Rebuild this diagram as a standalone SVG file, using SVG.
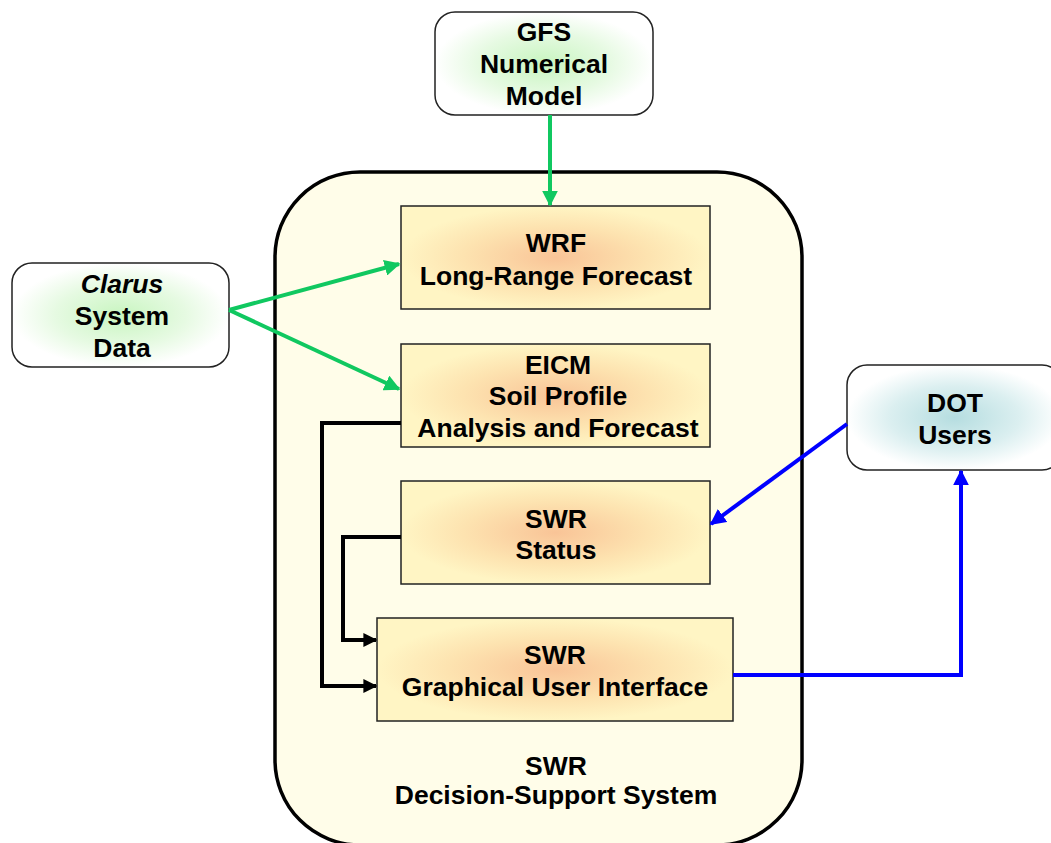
<svg xmlns="http://www.w3.org/2000/svg" width="1051" height="843" viewBox="0 0 1051 843">
<defs>
<style>
.t{font-family:"Liberation Sans",Arial,sans-serif;font-weight:bold;font-size:26.5px;text-anchor:middle;fill:#000}
.box{stroke:#222;stroke-width:1.5}
.rbox{stroke:#222;stroke-width:1.5}
.g{stroke:#10c860;stroke-width:4;fill:none}
.b{stroke:#0000ff;stroke-width:4;fill:none}
.k{stroke:#000;stroke-width:4;fill:none}
</style>
<radialGradient id="org" cx="50%" cy="50%" r="50%">
<stop offset="0" stop-color="#f9c497"/>
<stop offset="0.6" stop-color="#fde3b0"/>
<stop offset="1" stop-color="#fff5c4"/>
</radialGradient>
<radialGradient id="grn" cx="50%" cy="50%" r="50%">
<stop offset="0" stop-color="#c8f5c0"/>
<stop offset="0.6" stop-color="#e6fae2"/>
<stop offset="1" stop-color="#ffffff"/>
</radialGradient>
<radialGradient id="blu" cx="50%" cy="50%" r="50%">
<stop offset="0" stop-color="#b5dde0"/>
<stop offset="0.6" stop-color="#dbeff0"/>
<stop offset="1" stop-color="#ffffff"/>
</radialGradient>
<marker id="ag" viewBox="0 0 10 10" refX="9" refY="5" markerWidth="4" markerHeight="4" orient="auto" markerUnits="strokeWidth"><path d="M0,0 L10,5 L0,10 z" fill="#10c860"/></marker>
<marker id="ab" viewBox="0 0 10 10" refX="9" refY="5" markerWidth="4" markerHeight="4" orient="auto" markerUnits="strokeWidth"><path d="M0,0 L10,5 L0,10 z" fill="#0000ff"/></marker>
<marker id="ak" viewBox="0 0 10 10" refX="9" refY="5" markerWidth="3.5" markerHeight="3.5" orient="auto" markerUnits="strokeWidth"><path d="M0,0 L10,5 L0,10 z" fill="#000"/></marker>
</defs>
<rect width="1051" height="843" fill="#fff"/>
<g id="container">
<rect x="275" y="172" width="527" height="673" rx="85" fill="#fffde9" stroke="#000" stroke-width="3.5"/>
<text class="t" x="556" y="775">SWR</text>
<text class="t" x="556" y="804">Decision-Support System</text>
</g>
<g id="gfs">
<rect class="rbox" x="435" y="12" width="218" height="103" rx="20" fill="url(#grn)"/>
<text class="t" x="544" y="41">GFS</text>
<text class="t" x="544" y="73">Numerical</text>
<text class="t" x="544" y="105">Model</text>
</g>
<g id="clarus">
<rect class="rbox" x="12" y="263" width="217" height="104" rx="20" fill="url(#grn)"/>
<text class="t" x="122" y="293" font-style="italic">Clarus</text>
<text class="t" x="122" y="325">System</text>
<text class="t" x="122" y="357">Data</text>
</g>
<g id="dot">
<rect class="rbox" x="847" y="365" width="215" height="105" rx="20" fill="url(#blu)"/>
<text class="t" x="955" y="412">DOT</text>
<text class="t" x="955" y="444">Users</text>
</g>
<g id="wrf">
<rect class="box" x="401" y="206" width="309" height="103" fill="url(#org)"/>
<text class="t" x="556" y="252">WRF</text>
<text class="t" x="556" y="285">Long-Range Forecast</text>
</g>
<g id="eicm">
<rect class="box" x="401" y="344" width="309" height="103" fill="url(#org)"/>
<text class="t" x="558" y="374">EICM</text>
<text class="t" x="558" y="405">Soil Profile</text>
<text class="t" x="558" y="437">Analysis and Forecast</text>
</g>
<g id="status">
<rect class="box" x="401" y="481" width="309" height="103" fill="url(#org)"/>
<text class="t" x="556" y="528">SWR</text>
<text class="t" x="556" y="559">Status</text>
</g>
<g id="gui">
<rect class="box" x="377" y="618" width="356" height="103" fill="url(#org)"/>
<text class="t" x="555" y="664">SWR</text>
<text class="t" x="555" y="696">Graphical User Interface</text>
</g>
<g id="connectors">
<path class="g" d="M550,115 L550,205" marker-end="url(#ag)"/>
<path class="g" d="M229,310 L399,264" marker-end="url(#ag)"/>
<path class="g" d="M229,310 L399,389" marker-end="url(#ag)"/>
<path class="k" d="M401,423 L322,423 L322,686 L376,686" marker-end="url(#ak)"/>
<path class="k" d="M401,537 L343,537 L343,640 L376,640" marker-end="url(#ak)"/>
<path class="b" d="M847,424 L711,524" marker-end="url(#ab)"/>
<path class="b" d="M733,675 L961,675 L961,471" marker-end="url(#ab)"/>
</g>
</svg>
